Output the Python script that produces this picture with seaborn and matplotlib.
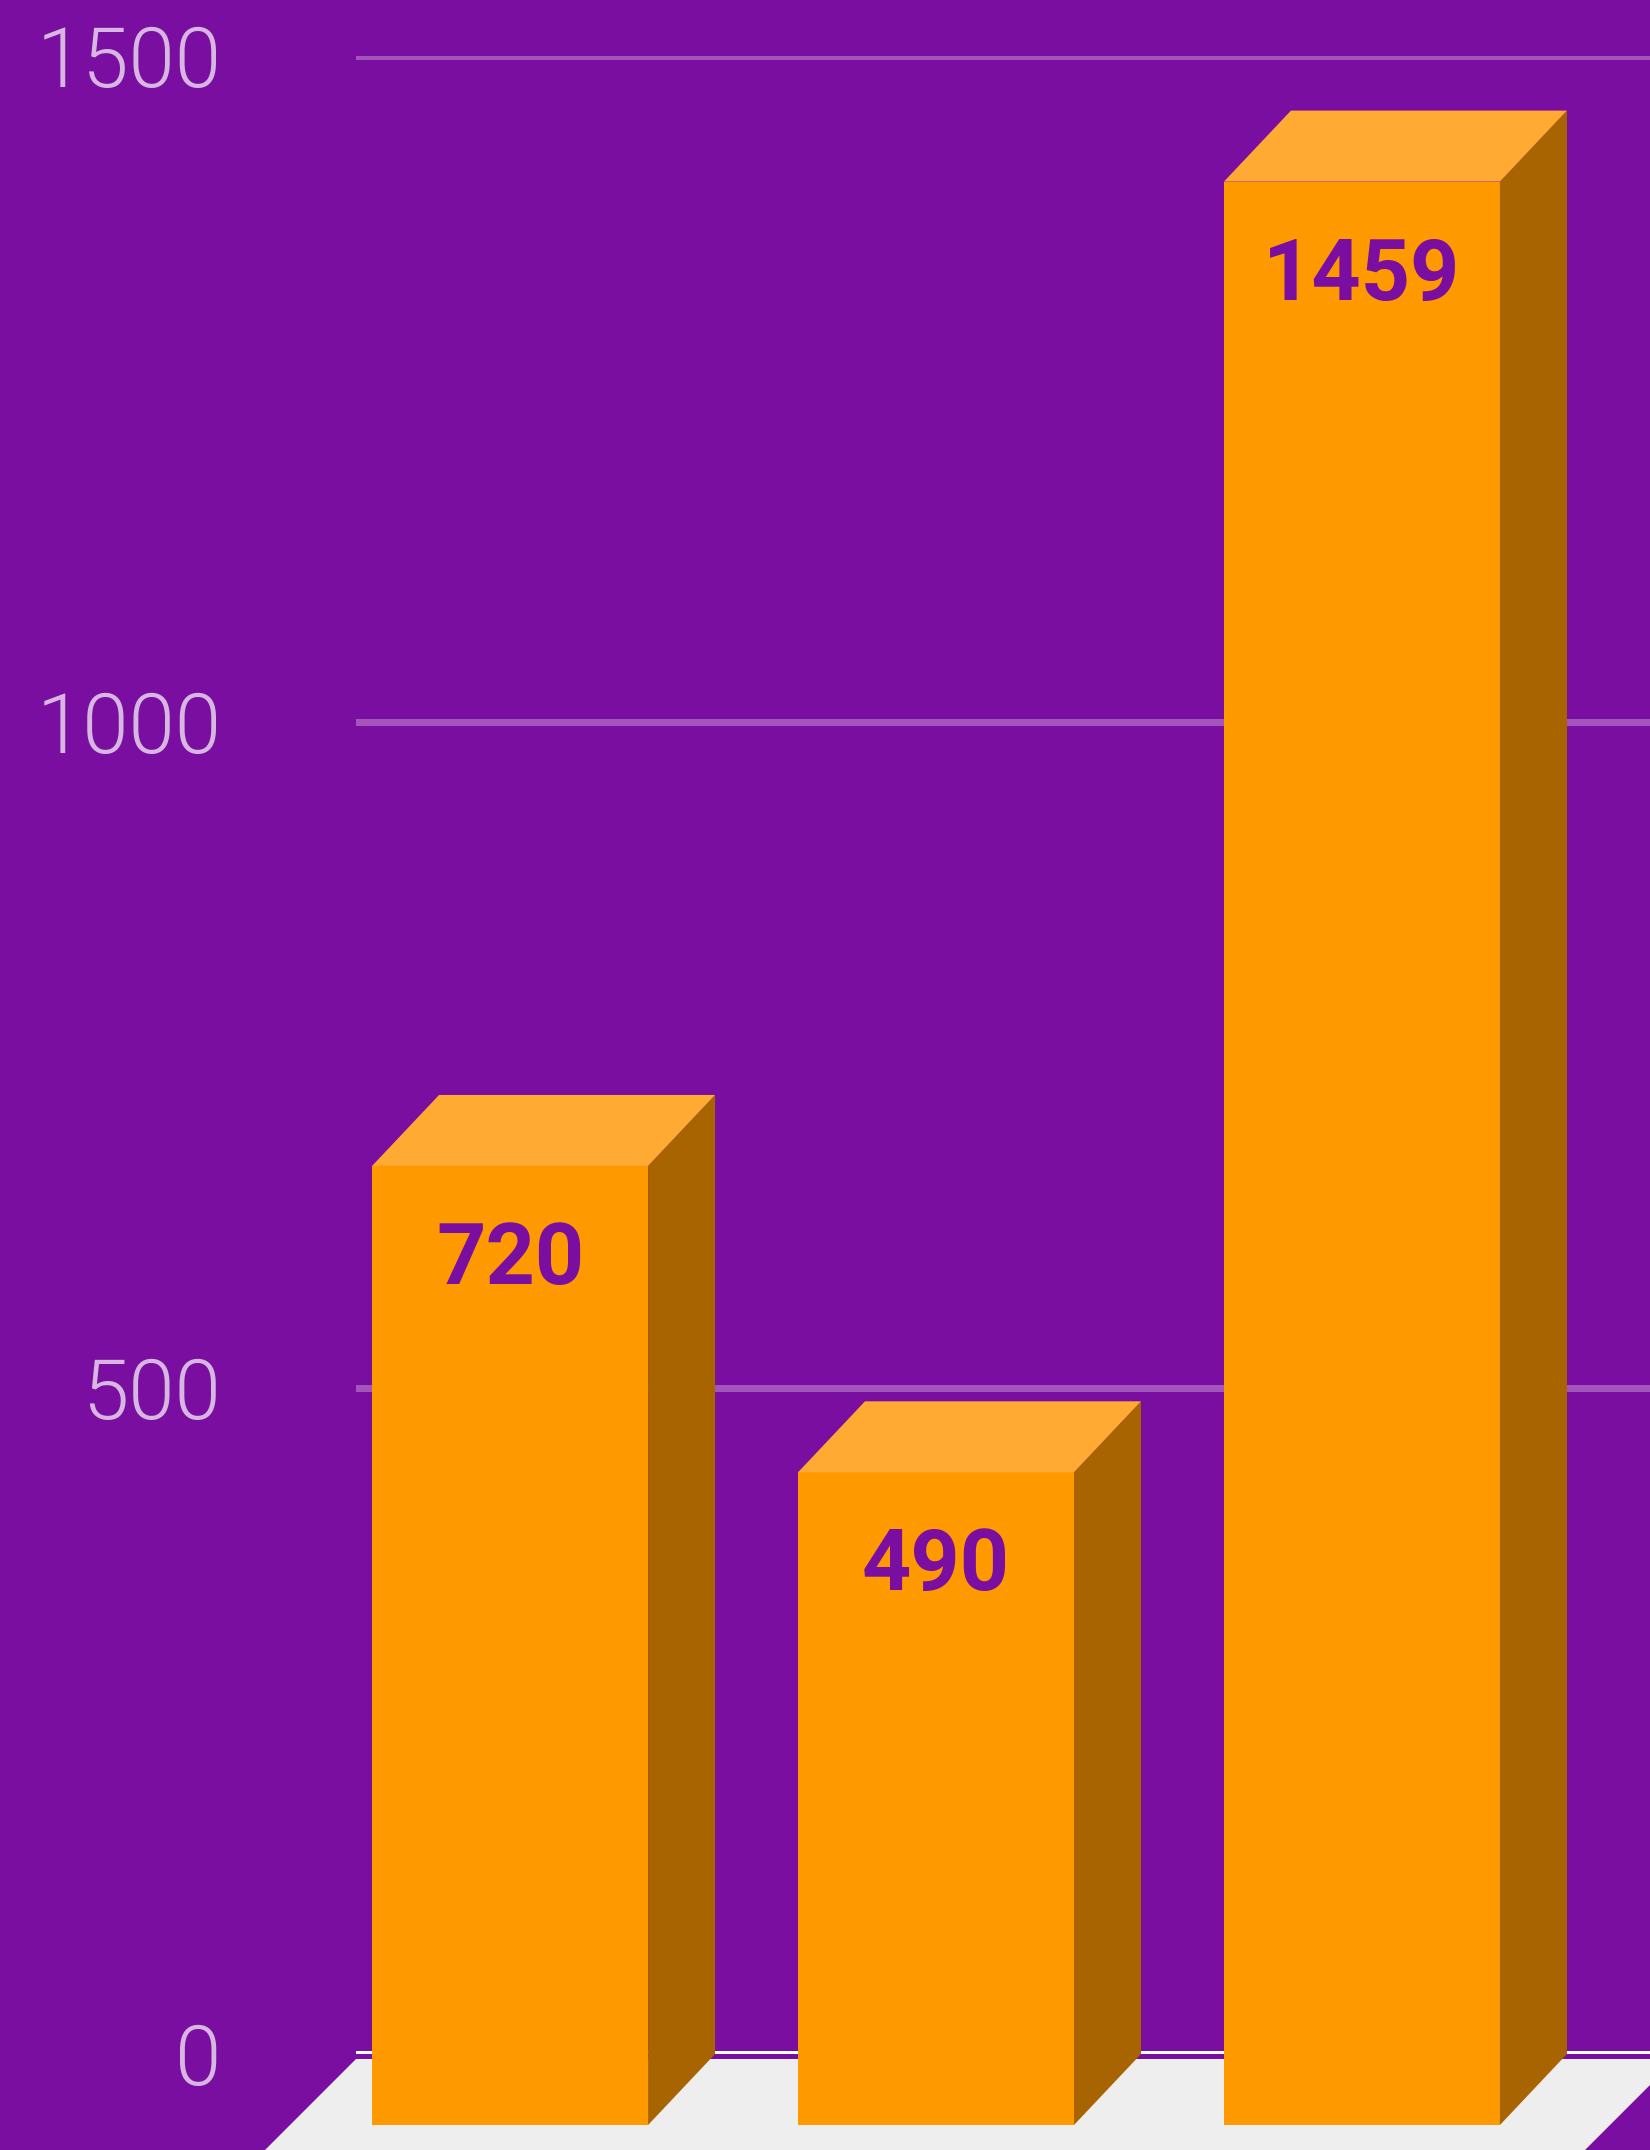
import matplotlib
matplotlib.use("Agg")
import matplotlib.pyplot as plt
import matplotlib.transforms as mtransforms
from matplotlib.patches import Polygon
import seaborn as sns
import pandas as pd

# data (category names are cropped out of the picture)
categories = ["A", "B", "C"]
values = [720, 490, 1459]
y_ticks = [0, 500, 1000, 1500]

BG = "#7A0EA0"
GRID = "#A256BC"
TICK = "#D7B7E2"
FRONT = "#FF9900"
TOP = "#FFAA33"
SIDE = "#A86400"
FLOOR = "#EEEEEE"

DPI = 100
DX, DY = -67, -71  # shift of the front face against the back wall, pixels

sns.set_style("white")
plt.rcParams["font.family"] = ["Roboto", "DejaVu Sans"]

fig = plt.figure(figsize=(16.5, 21.5), dpi=DPI, facecolor=BG)
ax = fig.add_axes([356 / 1650, 96 / 2150, 1294 / 1650, 1998 / 2150])
ax.patch.set_visible(False)

df = pd.DataFrame({"category": categories, "value": values})
sns.barplot(data=df, x="category", y="value", color=FRONT, saturation=1,
            width=0.648, ax=ax, zorder=3)

ax.set_xlim(-0.519, 2.519)
ax.set_ylim(0, 1500)
ax.set_yticks(y_ticks)
ax.set_xlabel("")
ax.set_ylabel("")
ax.tick_params(axis="x", length=0, labelbottom=False)
ax.tick_params(axis="y", length=0, pad=97, labelsize=60, labelcolor=TICK)
for lab in ax.get_yticklabels():
    lab.set_fontweight(300)
ax.grid(axis="y", color=GRID, linewidth=5.04, zorder=0)
ax.grid(axis="x", visible=False)
ax.axhline(0, color="white", linewidth=5.04, zorder=1)
sns.despine(ax=ax, left=True, bottom=True)

# floor under the bars
x_left = ax.transAxes.transform((0, 0))[0]
y_base = ax.transData.transform((0, 0))[1] - 5
floor = Polygon([(x_left, y_base), (x_left + 1320, y_base),
                 (x_left + 1320 - 400, y_base - 400), (x_left - 400, y_base - 400)],
                closed=True, facecolor=FLOOR, edgecolor="none",
                transform=mtransforms.IdentityTransform(), zorder=-1)
fig.add_artist(floor)

# turn each flat bar into a box: seaborn bar becomes the front face
front_shift = mtransforms.ScaledTranslation(DX / DPI, DY / DPI, fig.dpi_scale_trans)
for p, v in zip(ax.patches, values):
    x0, w, h = p.get_x(), p.get_width(), p.get_height()
    bl, br, tr, tl = ax.transData.transform([(x0, 0), (x0 + w, 0), (x0 + w, h), (x0, h)])
    f = lambda pt: (pt[0] + DX, pt[1] + DY)
    side = Polygon([br, tr, f(tr), f(br)], closed=True, facecolor=SIDE, edgecolor="none",
                   transform=mtransforms.IdentityTransform(), zorder=1)
    top = Polygon([tl, tr, f(tr), f(tl)], closed=True, facecolor=TOP, edgecolor="none",
                  transform=mtransforms.IdentityTransform(), zorder=1)
    fig.add_artist(side)
    fig.add_artist(top)
    p.set_transform(ax.transData + front_shift)
    p.set_clip_on(False)
    p.set_edgecolor("none")

    ax.annotate(f"{v}", xy=(x0 + w / 2, h), xytext=(DX * 0.72, (DY - 118) * 0.72),
                textcoords="offset points", ha="center", va="baseline",
                fontsize=62, fontweight="bold", color=BG, annotation_clip=False, zorder=4)

fig.savefig("out.png", dpi=DPI, facecolor=BG)
